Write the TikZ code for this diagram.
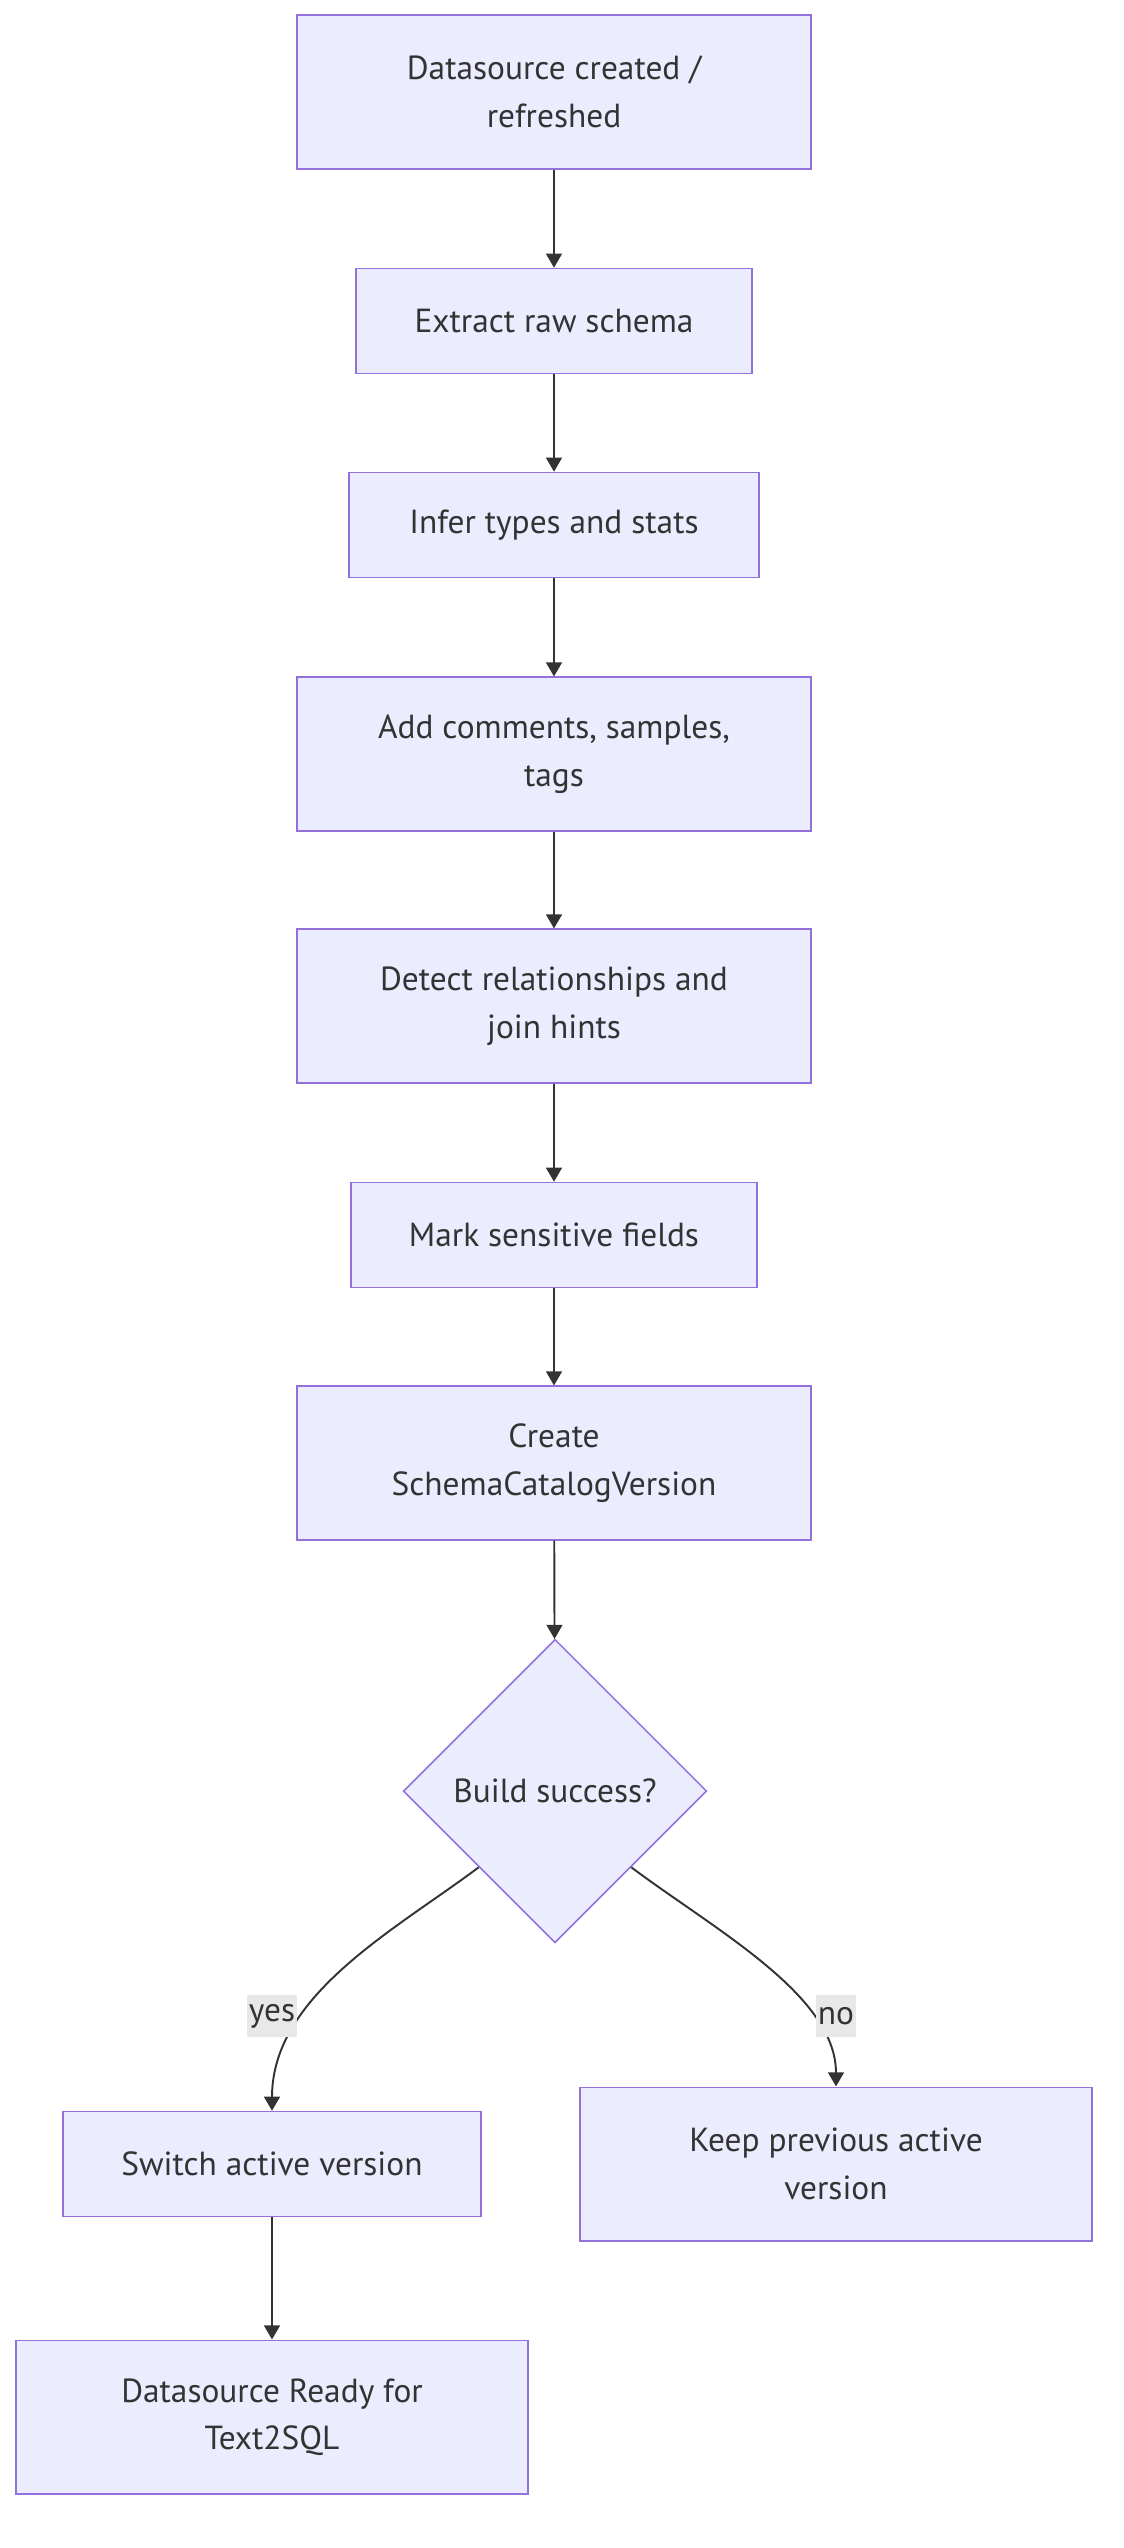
\documentclass[tikz,border=0pt]{standalone}
\usepackage{fontspec}
\setmainfont{PT Sans}
\usetikzlibrary{shapes.geometric,arrows.meta}
\definecolor{NodeFill}{RGB}{236,236,255}
\definecolor{NodeLine}{RGB}{147,112,219}
\definecolor{InkGray}{RGB}{51,51,51}
\definecolor{LabelGray}{RGB}{232,232,232}
\begin{document}
\begin{tikzpicture}[x=0.02cm,y=-0.02cm,
  box/.style={draw=NodeLine,fill=NodeFill,line width=0.9pt,minimum height=2.1cm,
              inner sep=0pt,align=center,text=InkGray,font=\fontsize{19}{27}\selectfont},
  tallbox/.style={box,minimum height=3.07cm,minimum width=10.28cm},
  decide/.style={box,diamond,aspect=1,minimum width=6.07cm,minimum height=6.07cm},
  flow/.style={-{Triangle[length=8pt,width=9pt]},draw=InkGray,line width=1.1pt},
  lbl/.style={fill=LabelGray,text=InkGray,inner xsep=1pt,minimum height=0.84cm,
              font=\fontsize{19}{27}\selectfont},
]
\useasboundingbox (0,0) rectangle (1124,2548);
\node[tallbox] (src) at (554,92) {Datasource created /\\refreshed};
\node[box,minimum width=7.92cm] (extract) at (554,321) {Extract raw schema};
\node[box,minimum width=8.2cm] (infer) at (554,525) {Infer types and stats};
\node[tallbox] (notes) at (554,754) {Add comments, samples,\\tags};
\node[tallbox] (rels) at (554,1006) {Detect relationships and\\join hints};
\node[box,minimum width=8.12cm] (mark) at (554,1235) {Mark sensitive fields};
\node[tallbox] (create) at (554,1463) {Create\\SchemaCatalogVersion};
\node[decide] (ok) at (555,1791) {Build success?};
\node[box,minimum width=8.36cm] (switch) at (272,2164) {Switch active version};
\node[tallbox,minimum width=10.24cm] (keep) at (836,2164) {Keep previous active\\version};
\node[tallbox,minimum width=10.24cm] (ready) at (272,2417) {Datasource Ready for\\Text2SQL};
\foreach \a/\b in {src/extract,extract/infer,infer/notes,notes/rels,rels/mark,mark/create,create/ok,switch/ready}
  \draw[flow] (\a) -- (\b);
\draw[flow] (ok.south west) .. controls (395,1930) and (272,1995) .. (switch.north);
\draw[flow] (ok.south east) .. controls (715,1930) and (836,1995) .. (keep.north);
\node[lbl] (yes) at (272,2016) {yes};
\node[lbl] (no) at (836,2016) {no};
\end{tikzpicture}
\end{document}
